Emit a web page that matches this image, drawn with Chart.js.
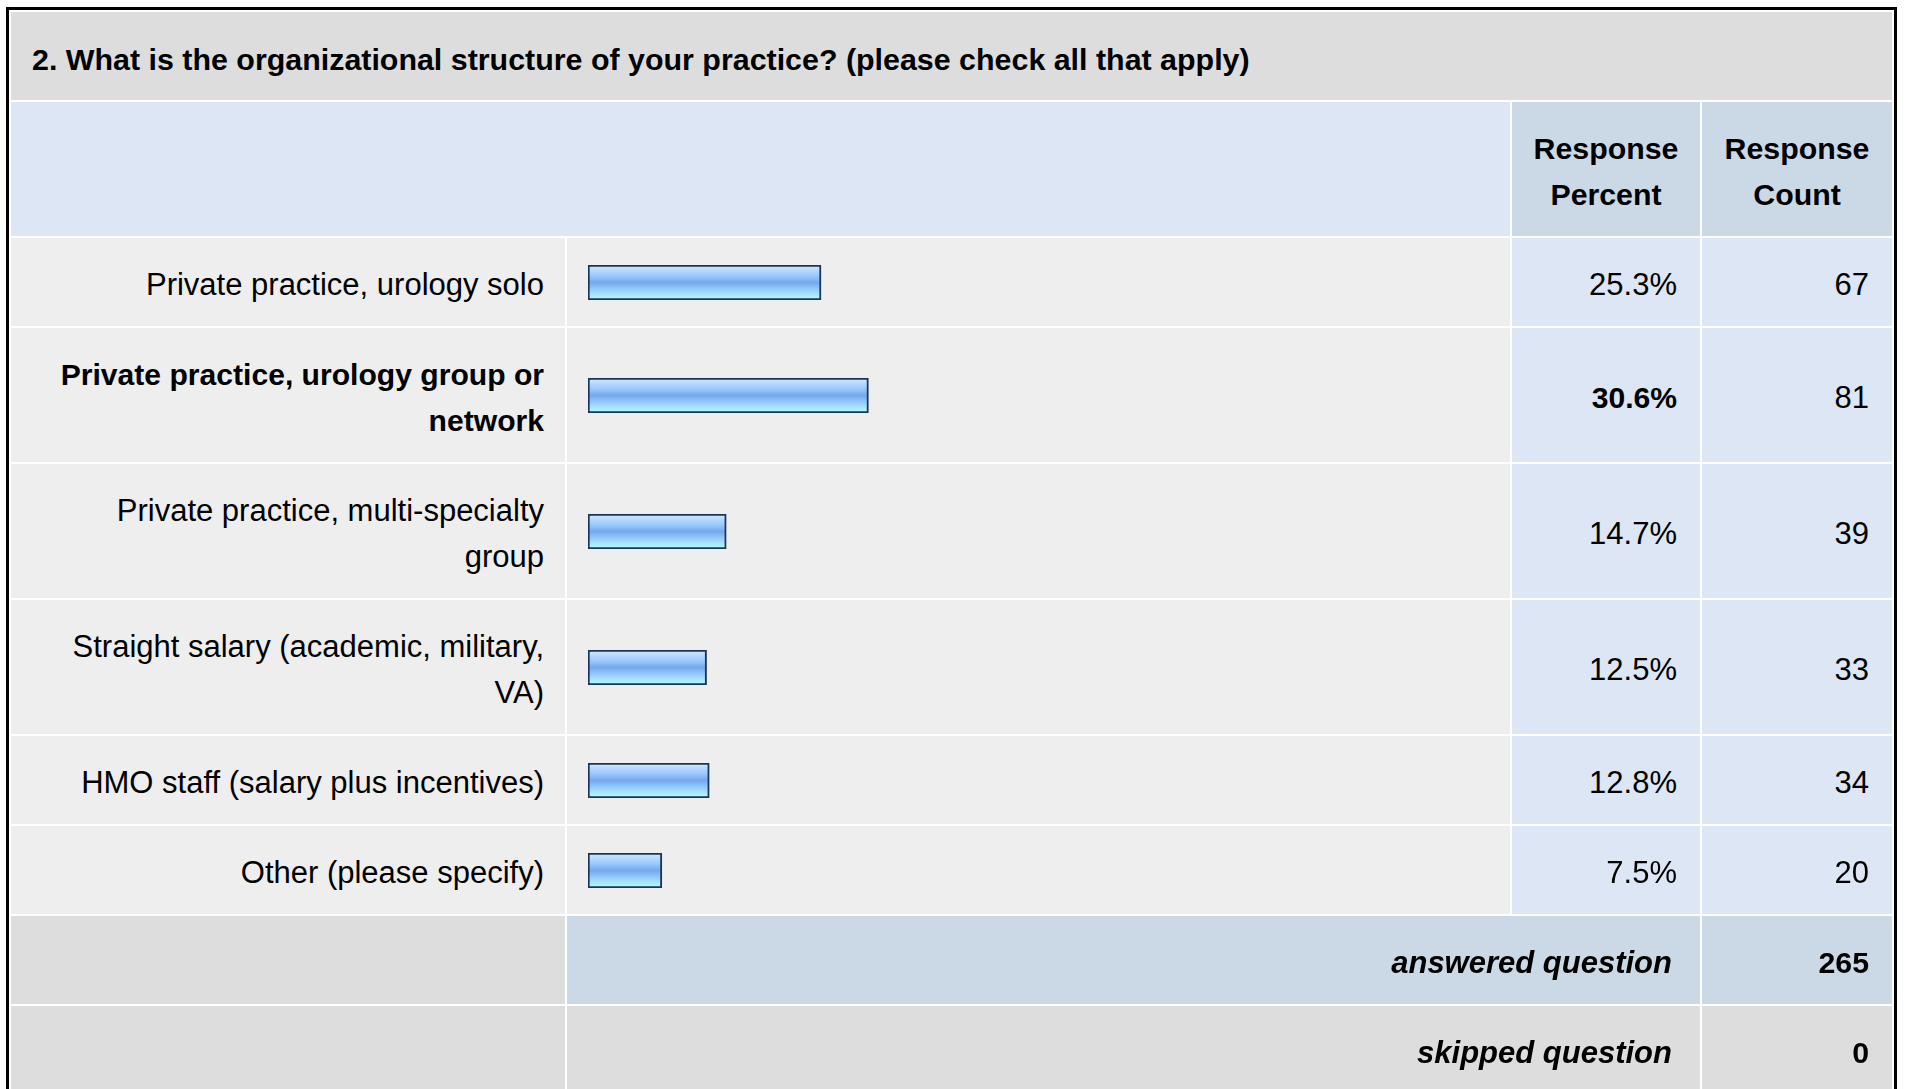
<!DOCTYPE html>
<html>
<head>
<meta charset="utf-8">
<script src="https://cdn.jsdelivr.net/npm/chart.js@4/dist/chart.umd.min.js"></script>
<style>
  html, body { margin: 0; padding: 0; background: #fff; overflow: hidden; }
  body { font-family: "Liberation Sans", Arial, Helvetica, sans-serif; color: #000; }
  #tbl {
    position: absolute; left: 6px; top: 7px;
    display: grid;
    grid-template-columns: 554px 943px 188px 190px;
    gap: 2px; padding: 2px;
    border: 3px solid #000;
    background: #fff;
  }
  .c { display: flex; align-items: center; box-sizing: border-box; padding: 24px 22px 18px 22px; font-size: 31px; line-height: 46px; }
  .title { grid-column: 1 / -1; background: #DDDDDD; font-weight: bold; font-size: 30.4px; padding-left: 21px; }
  .hblank { grid-column: span 2; background: #DCE6F4; }
  .hcol { background: #CBD8E6; font-weight: bold; font-size: 30.3px; justify-content: center; text-align: center; padding-left: 8px; padding-right: 8px; }
  .lab { background: #EEEEEE; justify-content: flex-end; text-align: right; padding-left: 33px; padding-right: 21px; }
  .bar { background: #EEEEEE; padding: 0 0 0 21px; }
  .bar canvas { display: block; }
  .num { background: #DCE6F4; justify-content: flex-end; text-align: right; padding-right: 23px; }
  .b { font-weight: bold; font-size: 30.1px; }
  .foot0 { background: #DDDDDD; }
  .footA { grid-column: span 2; background: #CBD8E6; justify-content: flex-end; font-weight: bold; font-style: italic; padding-right: 28px; }
  .footAn { background: #CBD8E6; justify-content: flex-end; font-weight: bold; font-size: 30.3px; padding-right: 23px; }
  .footS { grid-column: span 2; background: #DDDDDD; justify-content: flex-end; font-weight: bold; font-style: italic; padding-right: 28px; }
  .footSn { background: #DDDDDD; justify-content: flex-end; font-weight: bold; font-size: 30.3px; padding-right: 23px; }
</style>
</head>
<body>
<div id="tbl"></div>
<script>
const questionTitle = "2. What is the organizational structure of your practice? (please check all that apply)";
const headerLabels = ["Response Percent", "Response Count"];
const categories = [
  "Private practice, urology solo",
  "Private practice, urology group or network",
  "Private practice, multi-specialty group",
  "Straight salary (academic, military, VA)",
  "HMO staff (salary plus incentives)",
  "Other (please specify)"
];
const percents = [25.3, 30.6, 14.7, 12.5, 12.8, 7.5];
const counts = [67, 81, 39, 33, 34, 20];
const footerLabels = ["answered question", "skipped question"];
const footerCounts = [265, 0];

const tbl = document.getElementById('tbl');
function cell(cls, text) {
  const d = document.createElement('div');
  d.className = 'c ' + cls;
  if (text !== undefined) {
    const s = document.createElement('span');
    s.textContent = text;
    d.appendChild(s);
  }
  tbl.appendChild(d);
  return d;
}

cell('title', questionTitle);
cell('hblank');
headerLabels.forEach(h => cell('hcol', h));

const maxIdx = percents.indexOf(Math.max(...percents));

function barGradient(ctx) {
  const chart = ctx.chart;
  const ca = chart.chartArea;
  if (!ca) return '#86B8F4';
  const g = chart.ctx.createLinearGradient(0, ca.top, 0, ca.bottom);
  const stops = [[0,'#D4EAFF'],[0.1,'#C0DFFF'],[0.2,'#ADD4FF'],[0.3,'#9DCAFD'],[0.4,'#88BAF6'],
                 [0.5,'#75A8EE'],[0.6,'#85BAF5'],[0.7,'#96CCFB'],[0.8,'#A4DDFF'],[0.9,'#ACEFFF'],[1,'#AEFFFF']];
  stops.forEach(s => g.addColorStop(s[0], s[1]));
  return g;
}

// bar outline sits outside the value length, so the axis starts slightly below zero
const axisMin = -0.76;

categories.forEach((cat, i) => {
  const bold = i === maxIdx ? ' b' : '';
  cell('lab' + bold, cat);
  const bc = cell('bar');
  const cv = document.createElement('canvas');
  cv.width = 901; cv.height = 35;
  bc.appendChild(cv);
  cell('num' + bold, percents[i].toFixed(1) + '%');
  cell('num', String(counts[i]));

  new Chart(cv, {
    type: 'bar',
    data: {
      labels: [cat],
      datasets: [{
        data: [percents[i]],
        base: axisMin,
        backgroundColor: barGradient,
        borderColor: '#1B355A',
        borderWidth: 2,
        borderSkipped: false,
        barPercentage: 1,
        categoryPercentage: 1
      }]
    },
    options: {
      indexAxis: 'y',
      responsive: false,
      animation: false,
      devicePixelRatio: 1,
      layout: { padding: 0 },
      plugins: { legend: { display: false }, tooltip: { enabled: false } },
      scales: {
        x: { display: false, min: axisMin, max: 100 },
        y: { display: false }
      }
    }
  });
});

cell('foot0');
cell('footA', footerLabels[0]);
cell('footAn', String(footerCounts[0]));
cell('foot0');
cell('footS', footerLabels[1]);
cell('footSn', String(footerCounts[1]));
</script>
</body>
</html>
